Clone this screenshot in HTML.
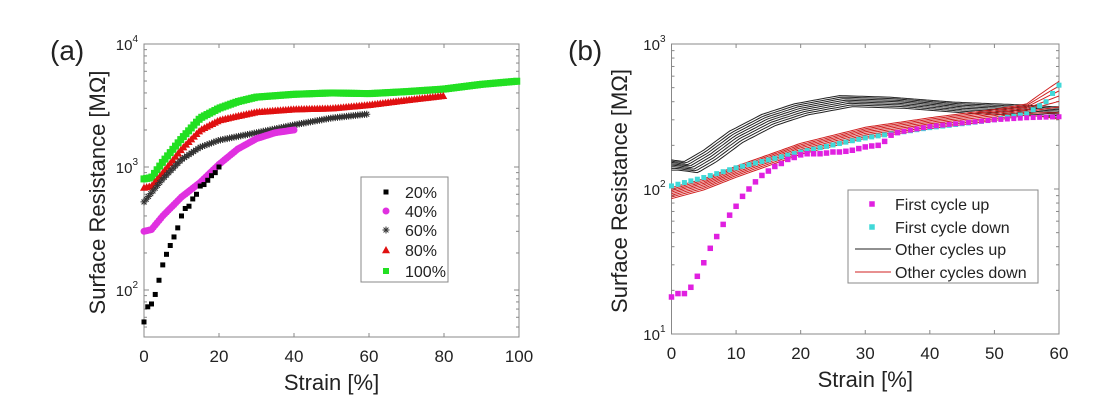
<!DOCTYPE html>
<html><head><meta charset="utf-8">
<style>
body{margin:0;background:#fff;}
svg{display:block;font-family:"Liberation Sans",sans-serif;}
</style></head>
<body>
<svg id="s" width="1110" height="412" xmlns="http://www.w3.org/2000/svg"></svg>
<script>
const S=document.getElementById('s');let h='';
function interp(pts,x){for(let i=0;i<pts.length-1;i++){if(x<=pts[i+1][0]){const[a,b]=[pts[i],pts[i+1]];const t=(x-a[0])/(b[0]-a[0]);return Math.exp(Math.log(a[1])+t*(Math.log(b[1])-Math.log(a[1])));}}return pts[pts.length-1][1];}
const A={x0:144,x1:519,y0:44,y1:337,top:4,dec:123};
const ax=x=>A.x0+(A.x1-A.x0)*x/100, ay=v=>A.y0+(A.top-Math.log10(v))*A.dec;
const B={x0:671.5,x1:1059,y0:44,y1:334,top:3,dec:145};
const bx=x=>B.x0+(B.x1-B.x0)*x/60, by=v=>B.y0+(B.top-Math.log10(v))*B.dec;
function axes(P,xt,xmax,yl,ylo,lx){
 h+=`<rect x="${P.x0}" y="${P.y0}" width="${P.x1-P.x0}" height="${P.y1-P.y0}" fill="none" stroke="#888" stroke-width="1"/>`;
 xt.forEach(t=>{const x=P.x0+(P.x1-P.x0)*t/xmax;h+=`<line x1="${x}" y1="${P.y1}" x2="${x}" y2="${P.y1-4}" stroke="#888"/><line x1="${x}" y1="${P.y0}" x2="${x}" y2="${P.y0+4}" stroke="#888"/><text x="${x}" y="${P.y1+25}" font-size="17" text-anchor="middle" fill="#222">${t}</text>`;});
 for(let d=ylo;d<P.top;d++)for(let m=1;m<10;m++){const y=P.y0+(P.top-d-Math.log10(m))*P.dec;if(y>P.y1)continue;const L=m==1?5:3;h+=`<line x1="${P.x0}" y1="${y}" x2="${P.x0+L}" y2="${y}" stroke="#888"/><line x1="${P.x1}" y1="${y}" x2="${P.x1-L}" y2="${y}" stroke="#888"/>`;}
 yl.forEach(d=>{const y=P.y0+(P.top-d)*P.dec;h+=`<text x="${P.x0-6}" y="${y+6}" font-size="15" text-anchor="end" fill="#222">10<tspan font-size="10" dy="-8">${d}</tspan></text>`;});
 const cx=(P.x0+P.x1)/2;h+=`<text x="${cx}" y="${P.y1+53}" font-size="22" text-anchor="middle" fill="#222">Strain [%]</text>`;
 const cy=(P.y0+P.y1)/2+2;h+=`<text transform="translate(${lx},${cy}) rotate(-90)" font-size="22" text-anchor="middle" fill="#222">Surface Resistance [MΩ]</text>`;
}
axes(A,[0,20,40,60,80,100],100,[2,3,4],1,105);
axes(B,[0,10,20,30,40,50,60],60,[1,2,3],1,627);
h+=`<text x="50" y="60" font-size="28" fill="#222">(a)</text><text x="568" y="60" font-size="28" fill="#222">(b)</text>`;
const sq=(x,y,s,c)=>`<rect x="${x-s/2}" y="${y-s/2}" width="${s}" height="${s}" fill="${c}"/>`;
const ci=(x,y,r,c)=>`<circle cx="${x}" cy="${y}" r="${r}" fill="${c}"/>`;
const tr=(x,y,s,c)=>`<polygon points="${x},${y-s} ${x-s},${y+s*0.8} ${x+s},${y+s*0.8}" fill="${c}"/>`;
const st=(x,y,s,c)=>`<path d="M${x-s} ${y}H${x+s}M${x} ${y-s}V${y+s}M${x-s*.7} ${y-s*.7}L${x+s*.7} ${y+s*.7}M${x-s*.7} ${y+s*.7}L${x+s*.7} ${y-s*.7}" stroke="${c}" stroke-width="1"/>`;
const d100=[[0,800],[2,820],[5,1100],[10,1700],[15,2500],[20,3000],[25,3400],[30,3700],[40,3900],[50,4000],[60,3950],[70,4100],[80,4300],[90,4700],[100,5000]];
const d80=[[0,680],[2,700],[5,900],[10,1400],[15,2000],[20,2400],[25,2600],[30,2800],[40,2950],[50,3000],[60,3200],[70,3500],[80,3800]];
const d60=[[0,520],[5,800],[10,1150],[15,1450],[20,1650],[30,1900],[40,2200],[50,2500],[60,2700]];
const d40=[[0,300],[2,310],[5,400],[10,570],[15,750],[20,1050],[25,1400],[30,1700],[35,1900],[40,2000]];
const d20=[55,73,77,92,120,160,195,230,270,320,400,460,480,550,600,700,720,780,850,900,1000];
for(let x=0;x<=100;x+=0.7)h+=sq(ax(x),ay(interp(d100,x)),7,'#22e022');
for(let x=0;x<=80;x+=0.7)h+=tr(ax(x),ay(interp(d80,x)),4,'#e01010');
for(let x=0;x<=60;x+=0.6)h+=st(ax(x),ay(interp(d60,x)),3.5,'#333');
for(let x=0;x<=40;x+=0.5)h+=ci(ax(x),ay(interp(d40,x)),3.5,'#e030e0');
d20.forEach((v,i)=>h+=sq(ax(i),ay(v),5,'#000'));
h+=`<rect x="361" y="177" width="87" height="105" fill="#fff" stroke="#888"/>`;
const LA=[['20%',(x,y)=>sq(x,y,5,'#000')],['40%',(x,y)=>ci(x,y,3.5,'#e030e0')],['60%',(x,y)=>st(x,y,3.5,'#333')],['80%',(x,y)=>tr(x,y,4,'#e01010')],['100%',(x,y)=>sq(x,y,6,'#22e022')]];
[192,211,230,250,271].forEach((y,i)=>{h+=LA[i][1](386,y)+`<text x="405" y="${y+6}" font-size="16" fill="#222">${LA[i][0]}</text>`;});
function path(f,c){let p='';for(let x=0;x<=60;x+=0.5)p+=(x?'L':'M')+bx(x).toFixed(1)+' '+by(f(x)).toFixed(1);return `<path d="${p}" fill="none" stroke="${c}" stroke-width="1"/>`;}
const blk=[[0,148],[3,142],[6,170],[10,230],[15,300],[20,355],[27,405],[35,395],[45,365],[55,350],[60,340]];
const red=[[0,94],[5,108],[10,132],[20,190],[30,245],[40,285],[50,325],[55,355],[60,420]];
for(let k=0;k<8;k++){const s=1+(k-3.5)*0.025;const sh=(k-3.5)*0.3;h+=path(x=>interp(blk,Math.max(0,x+sh))*s,'#222');}
for(let k=0;k<8;k++){const s=1+(k-3.5)*0.025;h+=path(x=>interp(red,x)*s*(x>55?1+(k-3.5)*0.012*(x-55):1),'#d02020');}
const cy=[[0,105],[5,120],[10,140],[20,180],[30,225],[40,265],[50,300],[55,330],[58,400],[60,520]];
for(let x=0;x<=60;x+=1)h+=sq(bx(x),by(interp(cy,x)),5,'#40d8d8');
const mg=[18,19,19,21,25,31,39,47,57,66,76,89,100,112,124,133,143,150,160,165,172,175,175,175,177,180,180,182,185,190,195,198,200,213,235,245];
mg.forEach((v,i)=>h+=sq(bx(i),by(v),5.5,'#e020e0'));
const mt=[[35,245],[40,270],[45,285],[50,300],[55,310],[60,315]];
for(let x=36;x<=60;x+=1)h+=sq(bx(x),by(interp(mt,x)),5,'#e020e0');
h+=`<rect x="848" y="190" width="190" height="93" fill="#fff" stroke="#888"/>`;
h+=sq(872,204,5.5,'#e020e0')+sq(872,227,5.5,'#40d8d8');
h+=`<line x1="855" y1="249" x2="891" y2="249" stroke="#222"/><line x1="855" y1="272" x2="891" y2="272" stroke="#d02020"/>`;
['First cycle up','First cycle down','Other cycles up','Other cycles down'].forEach((t,i)=>h+=`<text x="895" y="${[204,227,249,272][i]+6}" font-size="16" fill="#222">${t}</text>`);
S.innerHTML=h;
</script>
</body></html>
